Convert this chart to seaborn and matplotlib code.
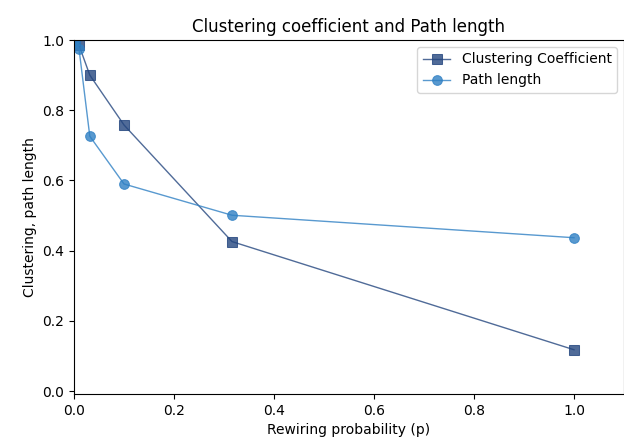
import matplotlib
matplotlib.use("Agg")
import matplotlib.pyplot as plt
import seaborn as sns
import pandas as pd

# Rewiring probabilities and the normalised network measures
p_values = [0.0001, 0.001, 0.01, 0.0316, 0.1, 0.316, 1.0]
clustering = [1.0, 0.998, 0.985, 0.900, 0.758, 0.426, 0.118]
path_length = [1.0, 0.995, 0.975, 0.726, 0.590, 0.501, 0.437]

series_names = ["Clustering Coefficient", "Path length"]
series_colors = ["#24467f", "#2f80c4"]
series_markers = ["s", "o"]

df = pd.DataFrame({
    "p": p_values * 2,
    "value": clustering + path_length,
    "series": [series_names[0]] * len(p_values) + [series_names[1]] * len(p_values),
})

fig = plt.figure(figsize=(6.24, 4.47), dpi=100)
ax = fig.add_axes([74 / 624, 1 - 394 / 447, 1 - 74 / 624, (394 - 40) / 447])

for name, color, marker in zip(series_names, series_colors, series_markers):
    sub = df[df["series"] == name]
    sns.lineplot(data=sub, x="p", y="value", ax=ax, color=color, marker=marker,
                 markersize=7, linewidth=1.0, alpha=0.8, label=name,
                 markeredgecolor=color, estimator=None, sort=False)

ax.set_xlim(0, 1.1)
ax.set_ylim(-0.008, 1.0)
ax.set_xticks([0.0, 0.2, 0.4, 0.6, 0.8, 1.0])
ax.set_yticks([0.0, 0.2, 0.4, 0.6, 0.8, 1.0])
ax.set_xlabel("Rewiring probability (p)")
ax.set_ylabel("Clustering, path length")
ax.set_title("Clustering coefficient and Path length")
ax.legend(loc="upper right")

fig.savefig("out.png", dpi=100)
